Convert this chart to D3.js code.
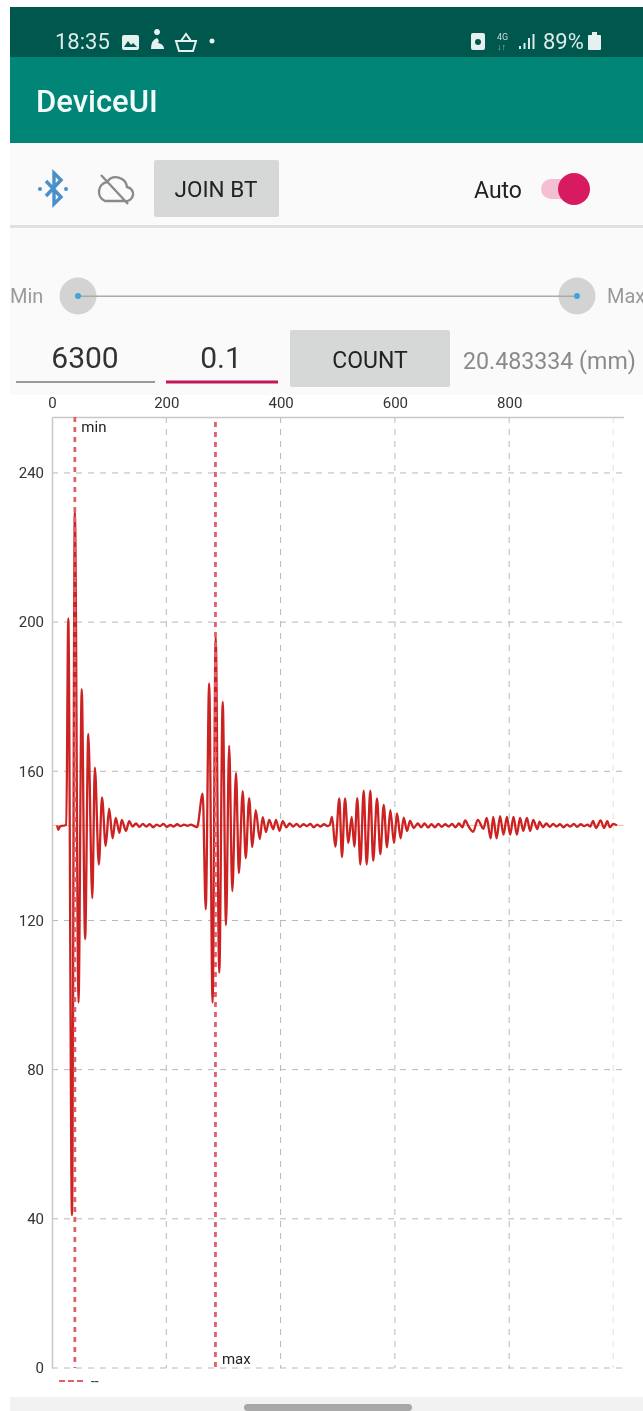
<!DOCTYPE html>
<html>
<head>
<meta charset="utf-8">
<script src="https://cdn.jsdelivr.net/npm/d3@7"></script>
<style>
  html, body { margin: 0; padding: 0; background: #fff; }
  /* the reference is a soft, recompressed screenshot */
  svg { display: block; font-family: Roboto, sans-serif; filter: blur(0.4px); }
</style>
</head>
<body>
<div id="chart"></div>
<script>
// waveform, sample position -> level
const waveX = [
  9, 11, 14, 19, 25,
  28.5, 35, 40, 46.4, 52, 58, 63.5, 70.5, 75, 82, 87.5, 94, 100, 106, 111.5, 118, 122, 129.5, 135,
  141, 147, 153, 159, 165, 171, 177, 183, 189, 195, 201, 207, 213, 219, 225, 231, 237, 243, 249, 253.7,
  263.7, 269, 275, 281, 286.4, 292.7, 298.7, 304.5, 310, 315.5, 322, 327, 333.7, 339, 345, 350.5, 356.5, 363.5, 368.7, 374.5, 380, 387, 392, 398, 403.7,
  410, 416, 422, 428, 434, 440, 446, 452, 458, 464, 470, 476, 482, 486,
  490, 495.7, 502.7, 507.4, 512.7, 518.5, 524.4, 529, 534.2, 539.5, 545.4, 550.6, 557, 562, 568.7, 574.5, 580.4, 586.2, 592, 598.4, 603.7, 610, 615.4, 621.2, 626.4, 633,
  640, 646, 652, 658, 664, 670, 676, 682, 688, 694, 700, 706, 712, 718, 723, 729, 737,
  745, 755, 760.6, 767.6, 772, 778, 784, 790, 796, 801.7, 807.5, 813.4, 819, 824.5, 831, 836.7, 842, 849.3, 853, 859,
  865, 871, 877, 883, 889, 895, 901, 907, 913, 919, 925, 931, 937, 942,
  946.6, 952, 960, 966, 971.7, 976, 982, 988.6
];
const waveY = [
  145.5, 144.3, 145.2, 145.4, 145.6,
  201, 41, 229.5, 98, 182, 115, 170, 126, 161, 135, 153, 140, 150, 142, 147.5, 143.5, 147, 144, 146.6,
  145.2, 146, 145.1, 145.9, 145.2, 145.8, 145, 145.7, 145.3, 145.9, 145.1, 145.6, 145.2, 145.8, 145.3, 145.7, 145.4, 145.7, 145.3, 145,
  154, 123, 183.6, 98, 196, 106, 178.6, 118.8, 166.8, 127.9, 159.5, 132.7, 154.7, 136.7, 152.8, 139.7, 149.6, 141.8, 147.7, 143.7, 147, 144.5, 147, 144, 146.6,
  145, 146, 145.2, 145.9, 145.1, 145.8, 145.3, 145.9, 145, 145.7, 145.2, 145.8, 145.3, 145.6,
  147.8, 139.8, 152.7, 137, 152.7, 140.8, 147.8, 139.8, 152.8, 135, 154.8, 135, 154.8, 136, 152.7, 137.8, 151, 139.6, 149.6, 140.8, 148.7, 142, 147.6, 144, 146.7, 144.8,
  146, 145, 146, 144.9, 145.8, 145, 145.9, 145.1, 145.8, 145.2, 145.9, 145, 146, 145, 146.8, 145.2, 143.8,
  147, 144.6, 147.5, 142, 147.8, 142, 148, 143, 147.8, 143, 147.8, 143, 147.5, 144, 147.5, 144, 147, 144.5, 146.5, 145,
  146, 145.1, 145.9, 145.2, 145.8, 145, 145.7, 145.2, 145.9, 145.1, 145.8, 145.3, 145.7, 145.2,
  146.7, 144.8, 146.8, 144.8, 146.6, 145, 145.9, 145.5
];
const baseLevel = [145.5];
const xTicks = [0, 200, 400, 600, 800];
const yTicks = [0, 40, 80, 120, 160, 200, 240];
const xEnd = [982];
const cursors = [
  { label: "min", at: 40 },
  { label: "max", at: 286 }
];

const W = 643, H = 1411;
const svg = d3.select("#chart").append("svg")
  .attr("width", W).attr("height", H).attr("viewBox", `0 0 ${W} ${H}`);

function rect(x, y, w, h, fill, r) {
  return svg.append("rect").attr("x", x).attr("y", y).attr("width", w).attr("height", h)
    .attr("fill", fill).attr("rx", r || 0);
}
function label(s, x, y, size, fill, anchor, weight) {
  return svg.append("text").text(s).attr("x", x).attr("y", y)
    .attr("font-size", size).attr("fill", fill)
    .attr("text-anchor", anchor || "start")
    .attr("font-weight", weight || 400);
}

// app chrome
rect(10, 143, W - 10, 252, "#fafafa");
rect(10, 7, W - 10, 50, "#00574e");
rect(10, 57, W - 10, 86, "#008577");
label("18:35", 55, 49, 22, "#dcebe8");
label("89%", 543, 49, 22, "#dcebe8");
label("DeviceUI", 36, 112, 31, "#f2fafa", "start", 500);

// status icons
rect(122, 35, 17, 15, "#e6f0ee", 2);
svg.append("path").attr("d", "M124 47l4-6 3 4 2-2 4 4z").attr("fill", "#00574e");
svg.append("path").attr("d", "M157 35a3 3 0 1 1 .1 0M151 49q0-9 6-11q3 3 1 5q6 1 6 6z").attr("fill", "#e6f0ee");
svg.append("path").attr("d", "M176 41h20l-3 10h-14zM181 41l5-7 5 7").attr("fill", "none").attr("stroke", "#e6f0ee").attr("stroke-width", 2);
svg.append("circle").attr("cx", 212).attr("cy", 41).attr("r", 2.5).attr("fill", "#e6f0ee");
rect(471, 33, 14, 17, "#e6f0ee", 2);
svg.append("circle").attr("cx", 478).attr("cy", 42).attr("r", 3).attr("fill", "#00574e");
label("4G", 497, 40, 9, "#c4dcd8");
label("↓↑", 497, 50, 9, "#8fb8b2");
[3, 6, 11, 15].forEach((h, i) => rect(519 + i * 4.5, 49 - h, 2, h, "#dcebe8"));
rect(588, 35, 13, 15, "#e6f0ee", 1);
rect(592, 32, 5, 3, "#e6f0ee");

// bluetooth and cloud
svg.append("path").attr("d", "M46 181l15 16-7 7v-31l7 7-15 16")
  .attr("fill", "none").attr("stroke", "#4a8fc9").attr("stroke-width", 3.4);
[40, 66].forEach(x => svg.append("circle").attr("cx", x).attr("cy", 189).attr("r", 2).attr("fill", "#4a8fc9"));
svg.append("path").attr("d", "M105 201h20a7 7 0 0 0 2-14a11 11 0 0 0-20-5a10 10 0 0 0-2 19zM101 175l27 29")
  .attr("fill", "none").attr("stroke", "#8a8a8a").attr("stroke-width", 2.4);

rect(154, 160, 125, 57, "#d6d7d7", 2);
label("JOIN BT", 216, 197, 22.5, "#222", "middle", 400);
label("Auto", 474, 198, 23, "#222");
rect(541, 179, 32, 20, "#f4bfd2", 10);
svg.append("circle").attr("cx", 574).attr("cy", 189).attr("r", 16).attr("fill", "#d81b60");
rect(10, 225, W - 10, 3, "#e0e0e0");

// range slider
label("Min", 10, 303, 20, "#9a9a9a");
label("Max", 607, 303, 20, "#9a9a9a");
[78, 577].forEach(x => {
  svg.append("circle").attr("cx", x).attr("cy", 296).attr("r", 18.5).attr("fill", "#d3d3d3");
});
rect(78, 295.5, 500, 1.5, "#aaa");
[78, 577].forEach(x => {
  svg.append("circle").attr("cx", x).attr("cy", 296).attr("r", 3).attr("fill", "#3ea6d8");
});

label("6300", 85, 368, 30, "#333", "middle");
rect(16, 381, 139, 2, "#999");
label("0.1", 221, 368, 30, "#333", "middle");
rect(166, 380.5, 112, 3, "#c2185b");
rect(290, 330, 160, 57, "#d6d7d7", 2);
label("COUNT", 370, 368, 23, "#222", "middle", 400);
label("20.483334 (mm)", 463, 369, 23.2, "#8a8a8a");

// chart
const x = d3.scaleLinear().domain([0, 1000]).range([52, 623.5]);
const y = d3.scaleLinear().domain([0, 255]).range([1368, 417]);
const waveData = waveX.map((d, i) => [d, waveY[i]]);

const grid = svg.append("g").attr("fill", "none");
grid.selectAll(".h").data(yTicks).join("line").attr("class", "h")
  .attr("x1", x(0)).attr("x2", x(1000)).attr("y1", d => y(d)).attr("y2", d => y(d))
  .attr("stroke", "#b8b8b8").attr("stroke-dasharray", "6 6");
grid.selectAll(".v").data(xTicks.slice(1)).join("line").attr("class", "v")
  .attr("x1", d => x(d)).attr("x2", d => x(d)).attr("y1", y(255)).attr("y2", y(0))
  .attr("stroke", "#b8b8b8").attr("stroke-dasharray", "6 6");
grid.selectAll(".e").data(xEnd).join("line").attr("class", "e")
  .attr("x1", d => x(d)).attr("x2", d => x(d)).attr("y1", y(255)).attr("y2", y(0))
  .attr("stroke", "#e4e2c8").attr("stroke-dasharray", "6 6");

const axisTop = svg.append("g").attr("transform", `translate(0,${y(255)})`)
  .call(d3.axisTop(x).tickValues(xTicks).tickSize(0).tickPadding(9));
const axisLeft = svg.append("g").attr("transform", `translate(${x(0)},0)`)
  .call(d3.axisLeft(y).tickValues(yTicks).tickSize(0).tickPadding(8));
[axisTop, axisLeft].forEach(a => {
  a.select(".domain").attr("stroke", "#c8c8c8").attr("stroke-width", 1.5);
  a.selectAll("text").attr("font-family", "Roboto, sans-serif").attr("font-size", 15).attr("fill", "#333");
});

// pale level line sits under the trace
svg.selectAll(".base").data(baseLevel).join("line").attr("class", "base")
  .attr("x1", x(0)).attr("x2", x(1000)).attr("y1", d => y(d)).attr("y2", d => y(d))
  .attr("stroke", "#f2b8a4").attr("stroke-width", 1);

const line = d3.line().curve(d3.curveMonotoneX).x(d => x(d[0])).y(d => y(d[1]));
svg.append("path").datum(waveData).attr("d", line)
  .attr("fill", "none").attr("stroke", "#cc2222").attr("stroke-width", 2.3).attr("stroke-linejoin", "round");

svg.selectAll(".cursor").data(cursors).join("line").attr("class", "cursor")
  .attr("x1", d => x(d.at)).attr("x2", d => x(d.at))
  .attr("y1", (d, i) => i ? y(255) + 5 : y(255)).attr("y2", y(0))
  .attr("stroke", "#e2606a").attr("stroke-width", 2.8).attr("stroke-dasharray", "5 5");
svg.selectAll(".cursor-label").data(cursors).join("text").attr("class", "cursor-label")
  .text(d => d.label)
  .attr("x", d => x(d.at) + 6.5)
  .attr("y", (d, i) => i ? y(0) - 4 : y(255) + 15)
  .attr("font-size", 15).attr("fill", "#222");

// legend
svg.append("line").attr("x1", 59).attr("x2", 84).attr("y1", 1381).attr("y2", 1381)
  .attr("stroke", "#e2606a").attr("stroke-width", 2).attr("stroke-dasharray", "6 3");
label("--", 91, 1386, 14, "#333");

// nav bar
rect(10, 1397, W - 10, 14, "#f2f2f2");
rect(244, 1404, 168, 7, "#a8a8a8", 3.5);
</script>
</body>
</html>
